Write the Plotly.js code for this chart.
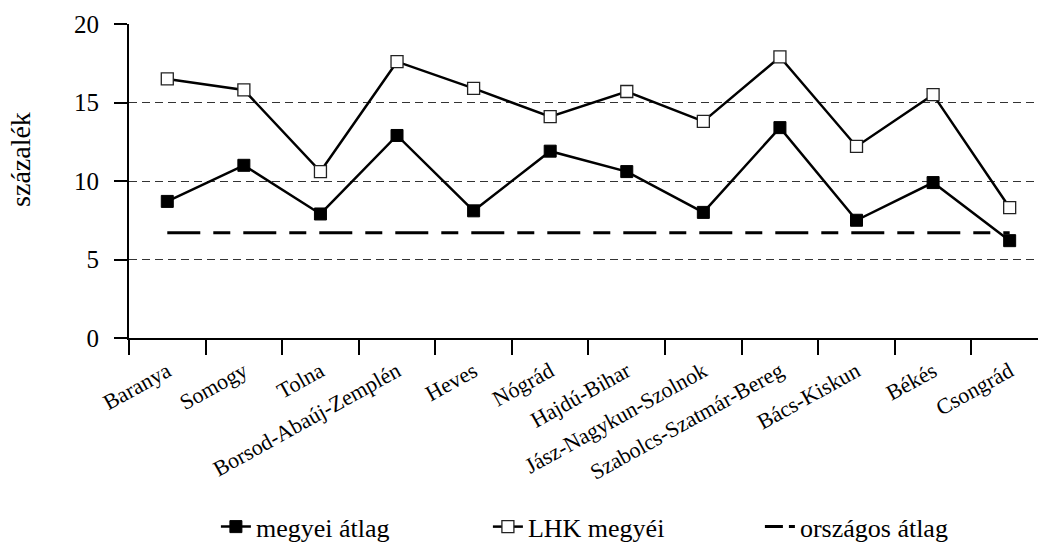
<!DOCTYPE html>
<html>
<head>
<meta charset="utf-8">
<script src="https://cdn.plot.ly/plotly-3.0.1.min.js"></script>
<style>html,body{margin:0;padding:0;background:#fff;}#chart{width:1038px;height:543px;}</style>
</head>
<body>
<div id="chart"></div>
<script>
var categories = ["Baranya","Somogy","Tolna","Borsod-Abaúj-Zemplén","Heves","Nógrád","Hajdú-Bihar","Jász-Nagykun-Szolnok","Szabolcs-Szatmár-Bereg","Bács-Kiskun","Békés","Csongrád"];
var megyeiAtlag = [8.7, 11.0, 7.9, 12.9, 8.1, 11.9, 10.6, 8.0, 13.4, 7.5, 9.9, 6.2];
var lhkMegyei = [16.5, 15.8, 10.6, 17.6, 15.9, 14.1, 15.7, 13.8, 17.9, 12.2, 15.5, 8.3];
var orszagosAtlagValue = 6.7;
var orszagosAtlag = categories.map(function(){ return orszagosAtlagValue; });
var seriesNames = ["megyei átlag", "LHK megyéi", "országos átlag"];
var yTitle = "százalék";

var font = "'Liberation Serif', 'Times New Roman', Times, serif";

var traces = [
  {
    x: categories, y: megyeiAtlag, name: seriesNames[0], type: "scatter", mode: "lines+markers",
    line: {color: "#000", width: 2.5},
    marker: {symbol: "square", size: 12, color: "#000", line: {color: "#000", width: 1}}
  },
  {
    x: categories, y: lhkMegyei, name: seriesNames[1], type: "scatter", mode: "lines+markers",
    line: {color: "#000", width: 2.5},
    marker: {symbol: "square", size: 12, color: "#fff", line: {color: "#222", width: 1.3}}
  },
  {
    x: categories, y: orszagosAtlag, name: seriesNames[2], type: "scatter", mode: "lines",
    showlegend: false,
    line: {color: "#000", width: 3, dash: "33px,13px,17px,13px"}
  },
  {
    // legend entry only (no data drawn): long dash + short dash symbol
    x: [categories[0]], y: [null], name: seriesNames[2], type: "scatter", mode: "lines",
    line: {color: "#000", width: 3, dash: "18px,6px,6px,100px"}
  }
];

var layout = {
  width: 1038, height: 543,
  margin: {l: 129, r: 0, t: 24, b: 205},
  paper_bgcolor: "#fff", plot_bgcolor: "#fff",
  font: {family: font, color: "#000"},
  showlegend: true,
  legend: {
    orientation: "h", xref: "container", yref: "container",
    x: 0.208, y: 0.03, xanchor: "left", yanchor: "middle",
    font: {family: font, size: 26, color: "#000"},
    entrywidth: 227, entrywidthmode: "pixels",
    traceorder: "normal", itemwidth: 30
  },
  xaxis: {
    type: "category",
    range: [-0.5, 11.37],
    tickson: "boundaries",
    ticks: "outside", ticklen: 15, tickwidth: 2, tickcolor: "#000",
    showline: true, linecolor: "#000", linewidth: 2,
    showgrid: false, zeroline: false,
    tickangle: -29,
    ticklabelstandoff: 10,
    tickfont: {family: font, size: 22, color: "#000"}
  },
  yaxis: {
    range: [0, 20],
    tickvals: [0, 5, 10, 15, 20],
    ticks: "outside", ticklen: 13, tickwidth: 2, tickcolor: "#000",
    showline: true, linecolor: "#000", linewidth: 2,
    showgrid: true, gridcolor: "#333", gridwidth: 1, griddash: "8px,5px",
    zeroline: false,
    ticklabelstandoff: 10,
    tickfont: {family: font, size: 25, color: "#000"}
  },
  annotations: [{
    text: yTitle, textangle: -90,
    xref: "paper", yref: "paper", x: -0.12, y: 0.57,
    xanchor: "center", yanchor: "middle", showarrow: false,
    font: {family: font, size: 28, color: "#000"}
  }]
};

Plotly.newPlot("chart", traces, layout, {displayModeBar: false, staticPlot: true});
</script>
</body>
</html>
